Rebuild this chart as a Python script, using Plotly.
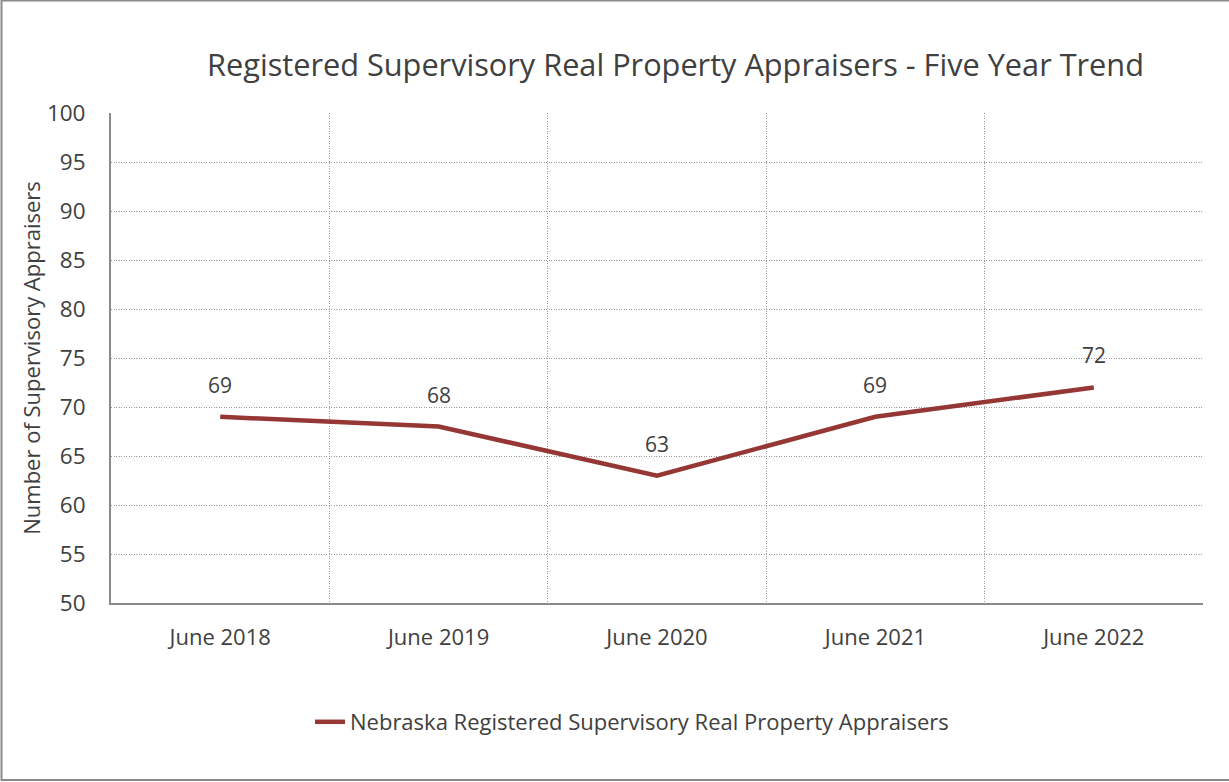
import plotly.graph_objects as go

categories = ["June 2018", "June 2019", "June 2020", "June 2021", "June 2022"]
values = [69, 68, 63, 69, 72]
series_name = "Nebraska Registered Supervisory Real Property Appraisers"
y_ticks = [50, 55, 60, 65, 70, 75, 80, 85, 90, 95, 100]

FONT = "Open Sans"
TXT = "#404040"
LINE = "#953735"
W, H = 1229, 782
ML, MR, MT, MB = 111, 26, 113, 179
PW, PH = W - ML - MR, H - MT - MB

xs = list(range(len(categories)))

fig = go.Figure()
fig.add_trace(go.Scatter(
    x=xs, y=values, mode="lines", name=series_name,
    line=dict(color=LINE, width=4.5),
))
for x, v in zip(xs, values):
    fig.add_annotation(x=x, y=v, text=str(v), showarrow=False, yshift=32,
                       font=dict(family=FONT, size=21, color=TXT))

fig.update_layout(
    width=W, height=H,
    paper_bgcolor="white", plot_bgcolor="white",
    margin=dict(l=ML, r=MR, t=MT, b=MB),
    title=dict(text="Registered Supervisory Real Property Appraisers - Five Year Trend",
               x=675.5 / W, xanchor="center", y=1 - 65.5 / H, yanchor="middle",
               font=dict(family=FONT, size=30.7, color=TXT)),
    showlegend=True,
    legend=dict(orientation="h", x=(632 - ML) / PW, xanchor="center",
                y=-(722 - MT - PH) / PH, yanchor="middle",
                font=dict(family=FONT, size=22, color=TXT)),
    font=dict(family=FONT, color=TXT),
)
fig.update_xaxes(
    range=[-0.5, len(categories) - 0.5],
    tickvals=xs, ticktext=categories, tickfont=dict(family=FONT, size=22, color=TXT),
    showgrid=False, showline=True, linecolor="#8a8a8a", linewidth=2,
    ticks="", ticklabelstandoff=14,
    minor=dict(tickvals=[i - 0.5 for i in range(len(categories) + 1)], showgrid=True,
               gridcolor="#9a9a9a", griddash="1px,1.5px", gridwidth=1.2),
    zeroline=False,
)
fig.update_yaxes(
    range=[50, 100], tickvals=y_ticks,
    tickfont=dict(family=FONT, size=22.5, color=TXT),
    showgrid=True, gridcolor="#9a9a9a", griddash="1px,1.5px", gridwidth=1.2,
    showline=True, linecolor="#8a8a8a", linewidth=2, ticks="", ticklabelstandoff=19,
    title=dict(text="Number of Supervisory Appraisers", font=dict(family=FONT, size=22, color=TXT), standoff=0),
    zeroline=False,
)
fig.add_shape(type="rect", xref="paper", yref="paper",
              x0=(1.5 - ML) / PW, x1=(W + 5 - ML) / PW,
              y0=-(780 - MT - PH) / PH, y1=1 + (MT - 0.5) / PH,
              line=dict(color="#8a8a8a", width=2), fillcolor="rgba(0,0,0,0)", layer="below")

fig.write_html("out.html", config={"displayModeBar": False},
               post_script="document.body.style.margin='0';")
